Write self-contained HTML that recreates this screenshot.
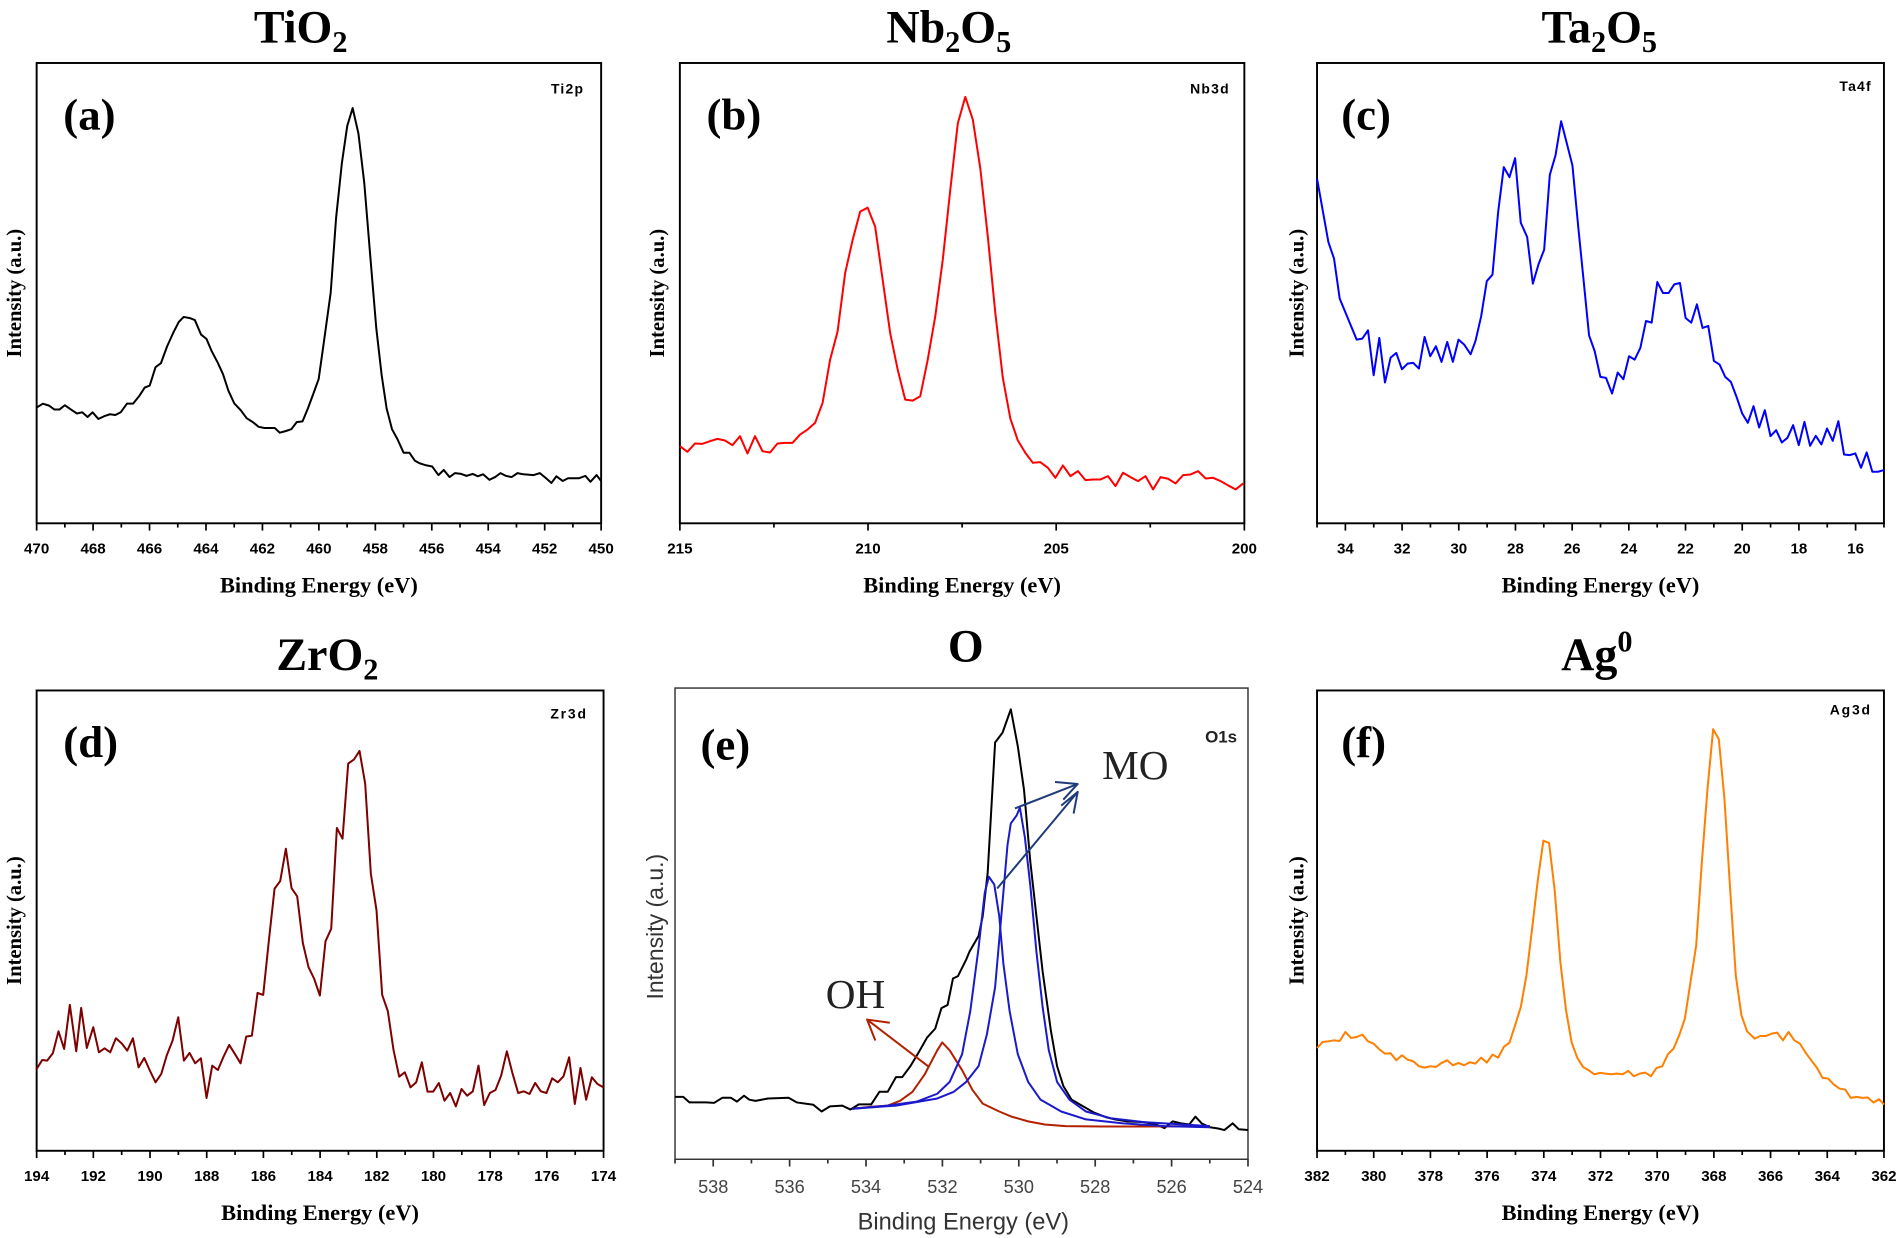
<!DOCTYPE html>
<html><head><meta charset="utf-8"><style>
html,body{margin:0;padding:0;background:#fff;}
svg{display:block;}
.t{font-family:"Liberation Serif",serif;font-weight:bold;fill:#000;}
.s{font-family:"Liberation Sans",sans-serif;font-weight:bold;fill:#000;}
.ar{font-family:"Liberation Sans",sans-serif;fill:#444;}
</style></head><body>
<svg id="sv" width="1900" height="1238" viewBox="0 0 1568 1022" xmlns="http://www.w3.org/2000/svg">
<g fill="none" stroke="#000" stroke-width="1.6">
<rect x="30" y="52" width="466" height="380"/>
<rect x="561" y="52" width="466" height="380"/>
<rect x="1087" y="52" width="468" height="380"/>
<rect x="30" y="570" width="468" height="380"/>
<rect x="557" y="568" width="473" height="389" stroke="#333" stroke-width="1.2"/>
<rect x="1087" y="570" width="468" height="380"/>
</g>
<g id="ticks"></g>
<!-- titles -->
<text class="t" x="248" y="35" font-size="38" text-anchor="middle">TiO<tspan font-size="25" dy="8">2</tspan></text>
<text class="t" x="783" y="35" font-size="38" text-anchor="middle">Nb<tspan font-size="25" dy="8">2</tspan><tspan dy="-8">O</tspan><tspan font-size="25" dy="8">5</tspan></text>
<text class="t" x="1320" y="35" font-size="38" text-anchor="middle">Ta<tspan font-size="25" dy="8">2</tspan><tspan dy="-8">O</tspan><tspan font-size="25" dy="8">5</tspan></text>
<text class="t" x="270" y="553" font-size="38" text-anchor="middle">ZrO<tspan font-size="25" dy="8">2</tspan></text>
<text class="t" x="797" y="546" font-size="38" text-anchor="middle">O</text>
<text class="t" x="1318" y="553" font-size="38" text-anchor="middle">Ag<tspan font-size="25" dy="-15">0</tspan></text>
<!-- panel labels -->
<text class="t" x="52" y="107" font-size="37">(a)</text>
<text class="t" x="583" y="107" font-size="37">(b)</text>
<text class="t" x="1107" y="107" font-size="37">(c)</text>
<text class="t" x="52" y="625" font-size="37">(d)</text>
<text class="t" x="578" y="627" font-size="37">(e)</text>
<text class="t" x="1107" y="625" font-size="37">(f)</text>
<!-- small labels -->
<text class="s" x="482" y="77" font-size="11.5" text-anchor="end" letter-spacing="1">Ti2p</text>
<text class="s" x="1015" y="77" font-size="11.5" text-anchor="end" letter-spacing="1">Nb3d</text>
<text class="s" x="1545" y="75" font-size="11.5" text-anchor="end" letter-spacing="1">Ta4f</text>
<text class="s" x="485" y="593" font-size="11.5" text-anchor="end" letter-spacing="1.5">Zr3d</text>
<text x="1021" y="613" font-size="14" text-anchor="end" font-family="Liberation Sans,sans-serif" font-weight="bold" fill="#222">O1s</text>
<text class="s" x="1545" y="590" font-size="11.5" text-anchor="end" letter-spacing="1.5">Ag3d</text>
<!-- axis titles -->
<text class="t" x="263" y="489" font-size="18.5" text-anchor="middle">Binding Energy (eV)</text>
<text class="t" x="794" y="489" font-size="18.5" text-anchor="middle">Binding Energy (eV)</text>
<text class="t" x="1321" y="489" font-size="18.5" text-anchor="middle">Binding Energy (eV)</text>
<text class="t" x="264" y="1007" font-size="18.5" text-anchor="middle">Binding Energy (eV)</text>
<text x="795" y="1015" font-size="19.5" text-anchor="middle" font-family="Liberation Sans,sans-serif" fill="#333">Binding Energy (eV)</text>
<text class="t" x="1321" y="1007" font-size="18.5" text-anchor="middle">Binding Energy (eV)</text>
<text class="t" font-size="17" text-anchor="middle" transform="translate(17,242) rotate(-90)">Intensity (a.u.)</text>
<text class="t" font-size="17" text-anchor="middle" transform="translate(548,242) rotate(-90)">Intensity (a.u.)</text>
<text class="t" font-size="17" text-anchor="middle" transform="translate(1076,242) rotate(-90)">Intensity (a.u.)</text>
<text class="t" font-size="17" text-anchor="middle" transform="translate(17,760) rotate(-90)">Intensity (a.u.)</text>
<text font-size="19" text-anchor="middle" font-family="Liberation Sans,sans-serif" fill="#333" transform="translate(547,765) rotate(-90)">Intensity (a.u.)</text>
<text class="t" font-size="17" text-anchor="middle" transform="translate(1076,760) rotate(-90)">Intensity (a.u.)</text>
<!-- curves -->
<g fill="none" stroke-width="2" stroke-linejoin="round">
<polyline vector-effect="non-scaling-stroke" stroke="#000" transform="matrix(0.3419,0,0,0.324,0.94,1.78)" points="85,1033 100,1023 115,1028 128,1038 140,1038 153,1027 168,1038 182,1048 195,1045 208,1057 220,1045 234,1062 248,1055 262,1050 275,1052 288,1045 303,1023 318,1023 333,1003 346,982 358,977 372,930 385,920 400,877 415,842 428,815 440,802 455,805 467,810 482,847 495,858 508,890 522,918 535,948 548,990 562,1022 578,1040 592,1060 607,1070 621,1082 635,1085 660,1085 672,1097 686,1093 700,1088 713,1070 727,1068 740,1035 753,998 766,960 778,870 795,740 808,550 822,410 835,315 848,270 862,335 876,460 890,640 905,830 918,950 930,1035 943,1088 956,1113 971,1148 985,1148 998,1168 1010,1175 1025,1180 1040,1183 1055,1205 1068,1192 1082,1210 1095,1200 1110,1202 1123,1207 1138,1202 1150,1208 1163,1203 1178,1217 1192,1210 1205,1200 1218,1207 1232,1210 1246,1200 1260,1203 1285,1205 1300,1200 1315,1213 1328,1225 1340,1208 1355,1220 1368,1213 1395,1213 1410,1207 1422,1222 1437,1205 1448,1220"/>
<polyline vector-effect="non-scaling-stroke" stroke="#ff0000" transform="matrix(0.31,0,0,0.2746,554.2,49.8)" points="22,1160 42,1177 62,1152 82,1153 102,1145 122,1138 142,1143 162,1157 182,1130 202,1182 222,1130 242,1175 262,1179 282,1152 302,1150 322,1150 342,1125 362,1110 382,1090 402,1030 422,900 442,815 462,640 482,540 502,455 522,443 542,500 562,660 582,820 602,930 622,1020 642,1023 662,1010 682,900 702,770 722,600 742,390 762,190 782,110 802,178 822,325 842,530 862,760 882,955 902,1077 922,1143 942,1180 962,1210 982,1208 1002,1225 1022,1255 1042,1218 1062,1250 1082,1235 1102,1262 1122,1260 1142,1260 1162,1250 1182,1280 1202,1240 1222,1253 1242,1265 1262,1250 1282,1290 1302,1253 1322,1258 1342,1272 1362,1247 1382,1245 1402,1235 1422,1257 1442,1255 1462,1265 1482,1278 1502,1290 1522,1272"/>
<polyline vector-effect="non-scaling-stroke" stroke="#0000ff" transform="matrix(0.3114,0,0,0.2748,1080.8,48.7)" points="20,360 50,550 65,600 80,720 125,843 140,840 155,815 170,950 185,838 200,972 215,897 230,883 245,932 260,915 275,913 290,930 305,835 320,893 335,863 350,910 365,850 380,910 395,843 410,858 427,887 440,847 455,773 470,667 485,648 500,460 515,325 530,355 545,298 560,492 577,535 592,675 607,617 622,573 637,348 652,290 667,187 682,253 697,320 712,500 727,670 741,830 756,878 771,955 786,958 802,1005 817,942 832,962 847,893 862,903 877,868 892,787 907,792 922,670 937,703 952,703 967,677 982,673 997,778 1012,792 1027,737 1042,808 1057,802 1072,907 1087,918 1102,955 1117,970 1132,1015 1147,1065 1162,1093 1177,1043 1192,1107 1207,1055 1222,1133 1237,1115 1252,1152 1267,1138 1282,1100 1297,1160 1312,1090 1327,1162 1342,1132 1357,1158 1372,1110 1387,1147 1402,1088 1417,1188 1432,1190 1447,1185 1462,1228 1477,1182 1492,1240 1507,1240 1523,1235"/>
<polyline vector-effect="non-scaling-stroke" stroke="#7f0000" transform="matrix(0.3118,0,0,0.2755,23.1,568.4)" points="22,1140 37,1113 50,1115 65,1093 80,1027 95,1080 110,948 127,1087 140,957 155,1077 172,1015 187,1090 202,1078 217,1090 232,1048 247,1063 262,1085 277,1048 292,1135 307,1107 322,1145 337,1180 352,1155 367,1098 382,1055 397,985 412,1115 427,1092 442,1123 457,1108 472,1227 487,1130 502,1143 517,1103 532,1068 547,1095 562,1123 577,1043 592,1040 607,912 622,918 637,755 652,600 667,577 682,480 697,598 712,623 727,763 742,835 757,870 772,920 787,757 802,720 817,418 832,450 847,225 862,213 877,187 892,285 907,555 922,665 937,918 952,967 967,1083 982,1163 997,1150 1012,1195 1027,1180 1042,1120 1057,1208 1072,1208 1087,1182 1102,1235 1117,1212 1132,1252 1147,1200 1162,1220 1177,1207 1192,1130 1207,1248 1222,1212 1237,1203 1252,1160 1267,1087 1282,1153 1297,1212 1312,1207 1327,1215 1342,1182 1357,1207 1372,1212 1387,1168 1402,1180 1417,1162 1432,1105 1447,1245 1462,1137 1477,1232 1492,1165 1507,1185 1523,1195"/>
<g transform="matrix(0.341,0,0,0.3258,534.8,508.7)">
<polyline vector-effect="non-scaling-stroke" stroke="#000" points="65,1218 85,1218 100,1232 140,1232 160,1233 180,1220 200,1220 215,1230 232,1215 245,1225 260,1228 290,1222 340,1220 360,1232 400,1238 420,1255 440,1242 470,1240 490,1250 510,1237 540,1237 560,1205 580,1205 600,1168 615,1168 635,1140 655,1105 675,1068 695,1045 710,993 725,985 738,918 750,912 770,870 778,850 800,810 810,760 822,650 840,320 858,295 878,236 895,330 910,440 925,620 940,760 955,900 975,1050 990,1140 1005,1190 1025,1225 1050,1240 1080,1258 1110,1270 1130,1275 1160,1280 1200,1282 1230,1288 1250,1297 1270,1280 1290,1285 1310,1288 1325,1268 1340,1285 1360,1295 1380,1298 1395,1302 1415,1285 1430,1300 1452,1302"/>
<polyline vector-effect="non-scaling-stroke" stroke="#b22000" points="495,1248 540,1243 580,1240 610,1228 640,1205 670,1160 700,1100 712,1080 730,1100 760,1150 785,1200 810,1235 850,1255 880,1268 920,1280 960,1288 1010,1292 1100,1293 1200,1293 1360,1292"/>
<polyline vector-effect="non-scaling-stroke" stroke="#1a1acc" points="495,1248 580,1240 650,1230 700,1210 730,1180 760,1110 780,1000 800,840 815,700 825,660 838,680 850,760 860,880 875,1000 895,1110 920,1180 950,1225 1000,1255 1060,1275 1150,1285 1250,1292 1360,1295"/>
<polyline vector-effect="non-scaling-stroke" stroke="#1a1acc" points="495,1248 600,1240 700,1222 740,1205 770,1180 800,1140 820,1060 840,940 855,760 870,580 878,525 892,505 900,485 912,560 925,680 940,850 955,990 970,1100 990,1180 1020,1225 1060,1255 1120,1272 1200,1282 1360,1292"/>
<g stroke="#1f3c7a">
<line vector-effect="non-scaling-stroke" x1="845" y1="690" x2="1040" y2="445"/>
<polyline vector-effect="non-scaling-stroke" points="1000,480 1040,445 1030,500"/>
<line vector-effect="non-scaling-stroke" x1="888" y1="487" x2="1040" y2="425"/>
<polyline vector-effect="non-scaling-stroke" points="985,420 1040,425 1005,465"/>
</g>
<g stroke="#b22000">
<line vector-effect="non-scaling-stroke" x1="680" y1="1142" x2="530" y2="1022"/>
<polyline vector-effect="non-scaling-stroke" points="585,1030 530,1022 550,1075"/>
</g>
</g>
<polyline vector-effect="non-scaling-stroke" stroke="#ff7f00" transform="matrix(0.3114,0,0,0.2747,1080.8,569)" points="20,1078 35,1060 50,1058 65,1055 80,1057 95,1030 110,1048 125,1045 140,1038 155,1058 170,1065 185,1082 200,1095 215,1094 230,1115 245,1100 260,1113 275,1118 290,1133 305,1137 320,1133 335,1135 350,1123 365,1115 380,1130 395,1123 410,1130 425,1121 440,1125 455,1107 470,1122 485,1098 500,1107 515,1075 530,1062 545,1010 560,955 575,860 590,720 605,575 620,455 635,462 650,605 665,820 680,965 695,1062 710,1108 725,1135 740,1145 755,1157 770,1153 785,1155 800,1157 815,1155 830,1157 845,1147 860,1163 875,1155 890,1152 905,1163 920,1138 935,1133 950,1097 965,1080 980,1040 995,990 1010,880 1025,770 1040,520 1055,300 1070,120 1085,150 1100,330 1115,600 1130,860 1145,980 1160,1028 1180,1050 1195,1042 1210,1042 1225,1035 1240,1032 1255,1055 1270,1030 1285,1055 1300,1065 1315,1092 1330,1115 1345,1137 1360,1168 1375,1170 1390,1188 1405,1200 1420,1203 1435,1228 1450,1225 1465,1228 1480,1227 1495,1242 1510,1232 1523,1248"/>
</g>
<text x="937" y="643" font-size="34" text-anchor="middle" font-family="Liberation Serif,serif" fill="#222">MO</text>
<text x="706" y="832" font-size="34" text-anchor="middle" font-family="Liberation Serif,serif" fill="#222">OH</text>
</svg>
<script>
(function(){
var g=document.getElementById('ticks'),NS='http://www.w3.org/2000/svg';
function ax(x0,x1,yb,v0,v1,maj,minr,lblY,sans,col){
  var n=Math.round(Math.abs(v1-v0)/minr);
  for(var i=0;i<=n;i++){
    var v=v0-i*minr*(v0>v1?1:-1);
    var x=x0+(x1-x0)*(v0-v)/(v0-v1);
    var r=((v%maj)+maj)%maj;
    var isMaj=r<1e-6||Math.abs(r-maj)<1e-6;
    var l=document.createElementNS(NS,'line');
    l.setAttribute('x1',x);l.setAttribute('x2',x);l.setAttribute('y1',yb);l.setAttribute('y2',yb+(isMaj?6:3.5));
    l.setAttribute('stroke',col||'#000');l.setAttribute('stroke-width',1.4);g.appendChild(l);
    if(isMaj){
      var t=document.createElementNS(NS,'text');
      t.setAttribute('x',x);t.setAttribute('y',lblY);t.setAttribute('text-anchor','middle');
      if(sans){t.setAttribute('class','ar');t.setAttribute('font-size','15');}
      else{t.setAttribute('class','s');t.setAttribute('font-size','12.5');}
      t.textContent=Math.round(v);g.appendChild(t);
    }
  }
}
ax(30,496,432,470,450,2,1,457);
ax(561,1027,432,215,200,5,2.5,457);
ax(1087,1555,432,35,15,2,1,457);
ax(30,498,950,194,174,2,1,975);
ax(557,1030,957,539,524,2,1,985,true,'#333');
ax(1087,1555,950,382,362,2,1,975);
})();
</script>
</body></html>
